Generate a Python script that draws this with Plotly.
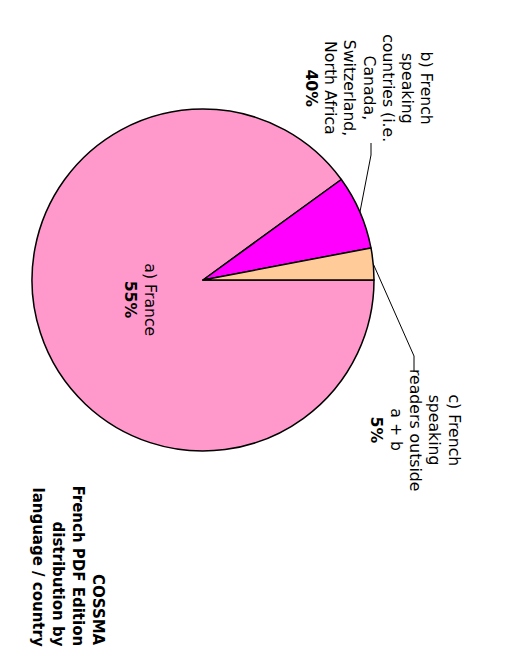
import math
import plotly.graph_objects as go

# ---- data ----
categories = ["a) France", "b) French speaking countries", "c) French speaking readers outside a + b"]
slice_values = [90, 7, 3]
label_lines = [
    ["a) France", "<b>55%</b>"],
    ["b) French", "speaking", "countries (i.e.", "Canada,", "Switzerland,", "North Africa", "<b>40%</b>"],
    ["c) French", "speaking", "readers outside", "a + b", "<b>5%</b>"],
]
slice_colors = ["#FF99CC", "#FF00FF", "#FFCC99"]
title_lines = ["COSSMA", "French PDF Edition", "distribution by", "language / country"]

W, H = 518, 648
OFF = 8  # page body margin
cx, cy, r = 203, 280, 171  # pie centre / radius in screen px

def px(x):
    return (x - OFF) / W

def py(y):
    return 1 - (y - OFF) / H

fig = go.Figure()
fig.add_trace(go.Pie(
    labels=categories,
    values=slice_values,
    sort=False,
    direction="clockwise",
    rotation=90,
    marker=dict(colors=slice_colors, line=dict(color="black", width=1.5)),
    textinfo="none",
    hoverinfo="label+percent",
    showlegend=False,
    domain=dict(x=[px(cx - r), px(cx + r)], y=[py(cy + r), py(cy - r)]),
))

# mid angles (counter-clockwise from 3 o'clock) of each slice
total = sum(slice_values)
mid = {}
acc = 0.0
for i in range(len(slice_values) - 1, -1, -1):
    mid[i] = (acc + slice_values[i] / 2) / total * 360
    acc += slice_values[i]

def edge(i):
    a = math.radians(mid[i])
    return cx + r * math.cos(a), cy - r * math.sin(a)

def add_lines(lines, x0, y0, spacing, font, yanchor="middle"):
    n = len(lines)
    for k, line in enumerate(lines):
        x = x0 + ((n - 1) / 2 - k) * spacing
        fig.add_annotation(x=px(x), y=py(y0), xref="paper", yref="paper", text=line,
                           showarrow=False, textangle=90, font=font,
                           xanchor="center", yanchor=yanchor)

label_pos = [(141, 300), (369.5, 88), (416, 430)]
font = dict(family="DejaVu Sans", size=15.7, color="black")
for i, lines in enumerate(label_lines):
    add_lines(lines, label_pos[i][0], label_pos[i][1], 19.3, font)

# leader lines
ex, ey = edge(1)
fig.add_shape(type="path", xref="paper", yref="paper",
              path=f"M {px(ex)},{py(ey)} L {px(371)},{py(155)} L {px(371)},{py(143)}",
              line=dict(color="black", width=1))
ex, ey = edge(2)
fig.add_shape(type="path", xref="paper", yref="paper",
              path=f"M {px(ex)},{py(ey)} L {px(414)},{py(356)} L {px(414)},{py(372)}",
              line=dict(color="black", width=1))

add_lines([f"<b>{t}</b>" for t in title_lines], 68, 648, 20,
          dict(family="DejaVu Sans", size=15, color="black"), yanchor="bottom")

fig.update_layout(width=W, height=H, margin=dict(l=0, r=0, t=0, b=0),
                  paper_bgcolor="white", plot_bgcolor="white")
fig.write_html("out.html")
